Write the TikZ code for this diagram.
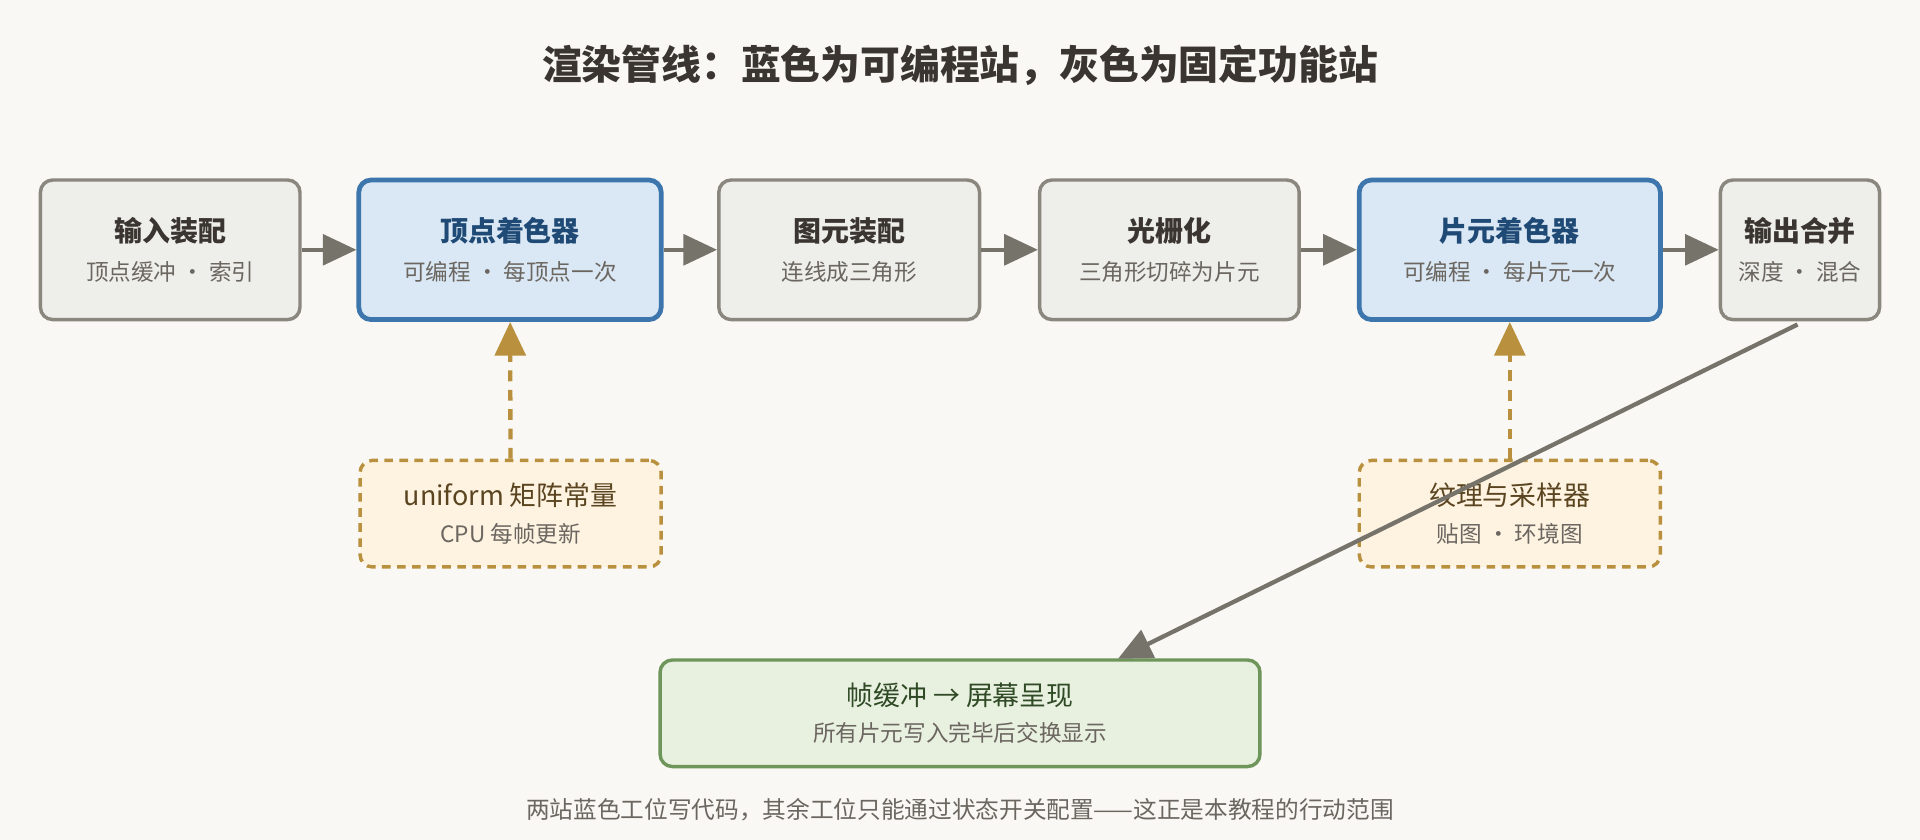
\documentclass[tikz,border=0pt]{standalone}
\usepackage{fontspec}
\setmainfont{Noto Sans CJK SC}
\usetikzlibrary{arrows.meta,positioning}
\definecolor{bgc}{HTML}{FAF8F4}
\definecolor{grayfill}{HTML}{EEEEEA}
\definecolor{grayline}{HTML}{8A877E}
\definecolor{bluefill}{HTML}{DAE8F5}
\definecolor{blueline}{HTML}{3D76AD}
\definecolor{bluetext}{HTML}{1F4A75}
\definecolor{orfill}{HTML}{FEF3E1}
\definecolor{orline}{HTML}{B8903E}
\definecolor{ortext}{HTML}{5A4520}
\definecolor{grfill}{HTML}{E8F0E0}
\definecolor{grline}{HTML}{6E955A}
\definecolor{grtext}{HTML}{2F4A25}
\definecolor{arrowc}{HTML}{76736A}
\definecolor{maintext}{HTML}{3A3530}
\definecolor{subtext}{HTML}{6B6660}
\tikzset{
  stage/.style={draw=grayline,fill=grayfill,line width=1.6pt,rounded corners=0.2cm,
    minimum height=2.28cm,align=center,text=maintext},
  prog/.style={stage,draw=blueline,fill=bluefill,line width=2.2pt,text=bluetext},
  feed/.style={draw=orline,fill=orfill,line width=1.6pt,dashed,dash pattern=on 4pt off 3pt,
    rounded corners=0.2cm,minimum width=4.92cm,minimum height=1.74cm,align=center,text=ortext},
  outbox/.style={draw=grline,fill=grfill,line width=1.6pt,rounded corners=0.2cm,
    minimum width=9.8cm,minimum height=1.74cm,align=center,text=grtext},
  flow/.style={draw=arrowc,line width=2pt,-{Triangle[length=0.55cm,width=0.5cm]}},
  dep/.style={draw=orline,line width=2pt,dashed,dash pattern=on 5pt off 4pt,
    -{Triangle[length=0.55cm,width=0.5cm]}}
}
\newcommand{\lbl}[2]{{\fontsize{13pt}{15pt}\bfseries #1}\\[6pt]{\fontsize{10.5pt}{12pt}\selectfont\color{subtext}#2}}
\newcommand{\flbl}[2]{{\fontsize{12.5pt}{15pt}\selectfont #1}\\[5pt]{\fontsize{10.5pt}{12pt}\selectfont\color{subtext}#2}}
\begin{document}
\begin{tikzpicture}[x=0.02cm,y=-0.02cm]
\fill[bgc] (0,0) rectangle (1568,686);
\useasboundingbox (0,0) rectangle (1568,686);
% title
\node[text=maintext,font=\fontsize{18.5pt}{22pt}\bfseries] (title) at (784,53) {渲染管线：蓝色为可编程站，灰色为固定功能站};
% stages
\node[stage,minimum width=4.24cm] (input) at (139,204) {\lbl{输入装配}{顶点缓冲 · 索引}};
\node[prog,minimum width=4.94cm] (vs) at (416.5,204) {\lbl{顶点着色器}{可编程 · 每顶点一次}};
\node[stage,minimum width=4.26cm] (prim) at (693.5,204) {\lbl{图元装配}{连线成三角形}};
\node[stage,minimum width=4.24cm] (rast) at (955,204) {\lbl{光栅化}{三角形切碎为片元}};
\node[prog,minimum width=4.92cm] (fs) at (1233,204) {\lbl{片元着色器}{可编程 · 每片元一次}};
\node[stage,minimum width=2.6cm] (om) at (1470,204) {\lbl{输出合并}{深度 · 混合}};
% inputs
\node[feed] (unif) at (417,419.5) {\flbl{uniform 矩阵常量}{CPU 每帧更新}};
\node[feed] (tex) at (1233,419.5) {\flbl{纹理与采样器}{贴图 · 环境图}};
% output
\node[outbox] (fb) at (784,582.5) {\flbl{帧缓冲 → 屏幕呈现}{所有片元写入完毕后交换显示}};
% connectors
\draw[flow] (input) -- (vs);
\draw[flow] (vs) -- (prim);
\draw[flow] (prim) -- (rast);
\draw[flow] (rast) -- (fs);
\draw[flow] (fs) -- (om);
\draw[dep] (unif) -- (vs);
\draw[dep] (tex) -- (fs);
\coordinate (omfoot) at (1468,265);
\draw[flow] (omfoot) -- (913,538);
% footer
\node[text=subtext,font=\fontsize{11pt}{13pt}\selectfont] (note) at (784,661) {两站蓝色工位写代码，其余工位只能通过状态开关配置——这正是本教程的行动范围};
\end{tikzpicture}
\end{document}
